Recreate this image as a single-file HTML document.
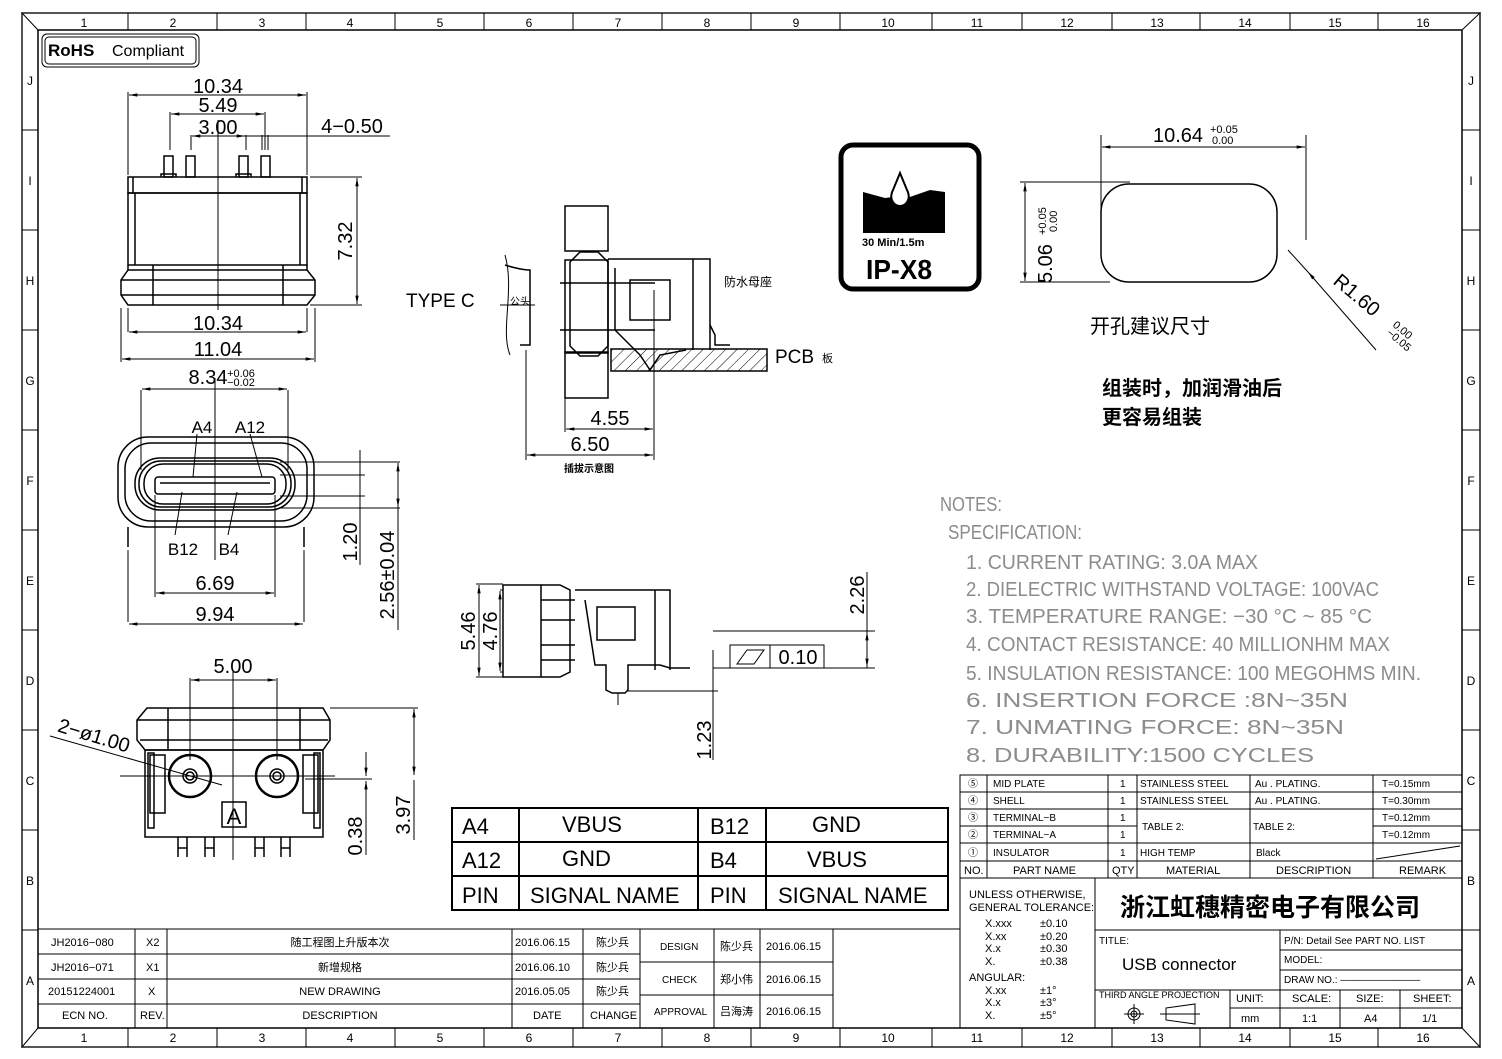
<!DOCTYPE html>
<html><head><meta charset="utf-8"><style>
html,body{margin:0;padding:0;background:#fff}
svg{display:block}
text{font-family:"Liberation Sans","Noto Sans CJK SC",sans-serif;fill:#000}
.n{font-size:12px;fill:#444}
.d{font-size:20px}
.g text{fill:#8c8c8c;font-size:20px;font-family:"Liberation Sans Narrow","Liberation Sans",sans-serif}
.s{font-size:10px}
.m{font-size:11px}
</style></head><body>
<svg width="1502" height="1059" viewBox="0 0 1502 1059" xmlns="http://www.w3.org/2000/svg">
<defs>
<marker id="a" viewBox="0 0 10 6" refX="10" refY="3" markerWidth="10" markerHeight="5" orient="auto-start-reverse"><path d="M0,1 L10,3 L0,5z" fill="#000"/></marker>
<pattern id="h" width="8" height="8" patternUnits="userSpaceOnUse" patternTransform="rotate(45)"><line x1="0" y1="0" x2="0" y2="8" stroke="#000" stroke-width="1"/></pattern>
</defs>
<g fill="none" stroke="#000">
<rect x="22" y="13" width="1458" height="1034" stroke-width="2" stroke="#555"/>
<rect x="38" y="30" width="1424" height="998" stroke-width="1.5"/>
<line x1="22" y1="13" x2="38" y2="30"/><line x1="1480" y1="13" x2="1462" y2="30"/>
<line x1="22" y1="1047" x2="38" y2="1028"/><line x1="1480" y1="1047" x2="1462" y2="1028"/>
<g stroke-width="1">
<path d="M128,13v17M217,13v17M306,13v17M395,13v17M484,13v17M573,13v17M662,13v17M751,13v17M840,13v17M932,13v17M1022,13v17M1112,13v17M1200,13v17M1290,13v17M1378,13v17"/>
<path d="M128,1028v19M217,1028v19M306,1028v19M395,1028v19M484,1028v19M573,1028v19M662,1028v19M751,1028v19M840,1028v19M932,1028v19M1022,1028v19M1112,1028v19M1200,1028v19M1290,1028v19M1378,1028v19"/>
<path d="M22,130h16M22,230h16M22,330h16M22,430h16M22,530h16M22,630h16M22,730h16M22,830h16M22,930h16"/>
<path d="M1462,130h18M1462,230h18M1462,330h18M1462,430h18M1462,530h18M1462,630h18M1462,730h18M1462,830h18M1462,930h18"/>
</g>
</g>
<g class="n" text-anchor="middle">
<text x="84" y="27">1</text><text x="173" y="27">2</text><text x="262" y="27">3</text><text x="350" y="27">4</text><text x="440" y="27">5</text><text x="529" y="27">6</text><text x="618" y="27">7</text><text x="707" y="27">8</text><text x="796" y="27">9</text><text x="888" y="27">10</text><text x="977" y="27">11</text><text x="1067" y="27">12</text><text x="1157" y="27">13</text><text x="1245" y="27">14</text><text x="1335" y="27">15</text><text x="1423" y="27">16</text>
<text x="84" y="1042">1</text><text x="173" y="1042">2</text><text x="262" y="1042">3</text><text x="350" y="1042">4</text><text x="440" y="1042">5</text><text x="529" y="1042">6</text><text x="618" y="1042">7</text><text x="707" y="1042">8</text><text x="796" y="1042">9</text><text x="888" y="1042">10</text><text x="977" y="1042">11</text><text x="1067" y="1042">12</text><text x="1157" y="1042">13</text><text x="1245" y="1042">14</text><text x="1335" y="1042">15</text><text x="1423" y="1042">16</text>
<text x="30" y="85">J</text><text x="30" y="185">I</text><text x="30" y="285">H</text><text x="30" y="385">G</text><text x="30" y="485">F</text><text x="30" y="585">E</text><text x="30" y="685">D</text><text x="30" y="785">C</text><text x="30" y="885">B</text><text x="30" y="985">A</text>
<text x="1471" y="85">J</text><text x="1471" y="185">I</text><text x="1471" y="285">H</text><text x="1471" y="385">G</text><text x="1471" y="485">F</text><text x="1471" y="585">E</text><text x="1471" y="685">D</text><text x="1471" y="785">C</text><text x="1471" y="885">B</text><text x="1471" y="985">A</text>
</g>

<rect x="42" y="34" width="157" height="33" rx="5" fill="none" stroke="#000"/>
<rect x="45" y="37" width="151" height="27" rx="4" fill="none" stroke="#000"/>
<text x="48" y="56" font-size="17" font-weight="bold">RoHS</text>
<text x="112" y="56" font-size="16">Compliant</text>

<g fill="none" stroke="#000" stroke-width="1.5">
<rect x="128" y="177" width="179" height="16"/>
<line x1="133" y1="177" x2="133" y2="193"/><line x1="302" y1="177" x2="302" y2="193"/>
<rect x="128" y="193" width="179" height="72"/>
<line x1="135" y1="193" x2="135" y2="265"/><line x1="300" y1="193" x2="300" y2="265"/>
<path d="M128,265 L128,270 L121,280 L121,295 L128,305 L307,305 L315,295 L315,280 L307,270 L307,265"/>
<line x1="121" y1="280" x2="315" y2="280"/><line x1="121" y1="295" x2="315" y2="295"/><line x1="128" y1="270" x2="307" y2="270"/>
<line x1="153" y1="265" x2="153" y2="305"/><line x1="283" y1="265" x2="283" y2="305"/>
<rect x="164" y="156" width="9" height="21"/><rect x="186" y="156" width="9" height="21"/><rect x="239" y="156" width="9" height="21"/><rect x="261" y="156" width="9" height="21"/>
<path d="M161,177v-3h15v3M236,177v-3h15v3"/>
</g>
<g fill="none" stroke="#000" stroke-width="1">
<line x1="218" y1="120" x2="218" y2="310"/>
<path d="M128,175V92M307,175V92M121,308V362M315,308V362M128,308V332M307,308V332"/>
<line x1="129" y1="95" x2="306" y2="95" marker-start="url(#a)" marker-end="url(#a)"/>
<path d="M170,150V112M265,150V112M191,150V135M246,150V135M262,150V135M268,150V135"/>
<line x1="171" y1="114" x2="264" y2="114" marker-start="url(#a)" marker-end="url(#a)"/>
<line x1="192" y1="136" x2="245" y2="136" marker-start="url(#a)" marker-end="url(#a)"/>
<line x1="245" y1="136" x2="390" y2="136"/>
<path d="M310,177H362M310,305H362"/>
<line x1="357" y1="178" x2="357" y2="304" marker-start="url(#a)" marker-end="url(#a)"/>
<line x1="129" y1="332" x2="306" y2="332" marker-start="url(#a)" marker-end="url(#a)"/>
<line x1="122" y1="359" x2="314" y2="359" marker-start="url(#a)" marker-end="url(#a)"/>
</g>
<g class="d" text-anchor="middle">
<text x="218" y="93">10.34</text><text x="218" y="112">5.49</text><text x="218" y="134">3.00</text>
<text x="352" y="133">4−0.50</text>
<text x="218" y="330">10.34</text><text x="218" y="356">11.04</text>
<text transform="translate(352,241) rotate(-90)">7.32</text>
</g>

<g fill="none" stroke="#000" stroke-width="1.5">
<rect x="118" y="437" width="196" height="90" rx="30"/>
<rect x="125" y="443" width="182" height="78" rx="26"/>
<rect x="135" y="458" width="160" height="52" rx="25"/>
<rect x="139" y="461" width="152" height="46" rx="22"/>
<rect x="144" y="464" width="142" height="40" rx="19"/>
<rect x="155" y="477" width="120" height="17" rx="3"/>
<line x1="160" y1="483" x2="270" y2="483"/>
<path d="M128,527v20M304,527v20"/>
</g>
<g fill="none" stroke="#000" stroke-width="1">
<line x1="215" y1="378" x2="215" y2="560"/>
<path d="M141,390V470M288,390V470"/>
<line x1="142" y1="389" x2="287" y2="389" marker-start="url(#a)" marker-end="url(#a)"/>
<path d="M197,434L193,477M250,434L262,477M182,492L175,535M237,492L228,535"/>
<path d="M155,495V597M275,495V597M128,550V622M304,550V622"/>
<line x1="156" y1="593" x2="274" y2="593" marker-start="url(#a)" marker-end="url(#a)"/>
<line x1="129" y1="624" x2="303" y2="624" marker-start="url(#a)" marker-end="url(#a)"/>
<path d="M280,462H400M280,475H365M280,496H365M280,508H400"/>
<line x1="360" y1="450" x2="360" y2="565"/>
<line x1="398" y1="463" x2="398" y2="507" marker-start="url(#a)" marker-end="url(#a)"/>
<line x1="398" y1="507" x2="398" y2="630"/>
</g>
<g class="d" text-anchor="middle">
<text x="208" y="384">8.34</text><text x="241" y="377" font-size="11">+0.06</text><text x="241" y="386" font-size="11">−0.02</text>
<text x="202" y="433" font-size="17">A4</text><text x="250" y="433" font-size="17">A12</text>
<text x="183" y="555" font-size="17">B12</text><text x="229" y="555" font-size="17">B4</text>
<text x="215" y="590">6.69</text><text x="215" y="621">9.94</text>
<text transform="translate(357,542) rotate(-90)">1.20</text>
<text transform="translate(394,575) rotate(-90)">2.56±0.04</text>
</g>

<g fill="none" stroke="#000" stroke-width="1.5">
<path d="M147,708H323L330,720V740L323,750H145L137,740V720Z"/>
<line x1="137" y1="720" x2="330" y2="720"/><line x1="140" y1="740" x2="328" y2="740"/>
<path d="M168,708V750M300,708V750"/>
<rect x="145" y="750" width="178" height="87"/>
<rect x="148" y="753" width="6" height="75"/><rect x="314" y="753" width="6" height="75"/>
<rect x="150" y="755" width="15" height="58"/><rect x="303" y="755" width="15" height="58"/>
<circle cx="190" cy="776" r="21" stroke-width="2.5"/><circle cx="190" cy="776" r="7"/><circle cx="190" cy="776" r="4"/>
<circle cx="277" cy="776" r="21" stroke-width="2.5"/><circle cx="277" cy="776" r="7"/><circle cx="277" cy="776" r="4"/>
<rect x="222" y="802" width="24" height="25"/>
<path d="M178,837v20M187,837v20M205,837v20M214,837v20M255,837v20M264,837v20M281,837v20M290,837v20M178,848h9M205,848h9M255,848h9M281,848h9"/>
</g>
<text x="234" y="824" font-size="22" text-anchor="middle">A</text>
<g fill="none" stroke="#000" stroke-width="1">
<line x1="233" y1="672" x2="233" y2="860"/>
<line x1="120" y1="776" x2="335" y2="776"/>
<path d="M190,678V760M277,678V760"/>
<line x1="191" y1="680" x2="276" y2="680" marker-start="url(#a)" marker-end="url(#a)"/>
<path d="M50,736L222,785"/>
<path d="M330,708H418M305,779H372"/>
<line x1="414" y1="709" x2="414" y2="775" marker-start="url(#a)" marker-end="url(#a)"/>
<line x1="366" y1="752" x2="366" y2="776" marker-end="url(#a)"/>
<line x1="366" y1="800" x2="366" y2="781" marker-end="url(#a)"/>
<path d="M366,800V855M414,780V840"/>
</g>
<g class="d" text-anchor="middle">
<text x="233" y="673">5.00</text>
<text transform="translate(92,742) rotate(17)">2−ø1.00</text>
<text transform="translate(362,836) rotate(-90)">0.38</text>
<text transform="translate(410,815) rotate(-90)">3.97</text>
</g>

<g fill="none" stroke="#000" stroke-width="1.5">
<rect x="565" y="206" width="43" height="45"/>
<rect x="565" y="352" width="43" height="46"/>
<path d="M565,260H608V353H565Z"/>
<path d="M580,252H598L608,262V346L598,356H580L570,346V262Z"/>
<path d="M608,259H710V350M693,259V350"/>
<path d="M630,280H670V320H630Z"/>
<path d="M560,283H655M560,330H655"/>
<path d="M615,268L615,330L640,355L650,370L660,355L686,350"/>
<path d="M710,325L715,335V345H730"/>
<path d="M505,265C505,265 520,270 530,270V345H520"/>
<rect x="611" y="349" width="156" height="22" fill="url(#h)"/>
</g>
<g fill="none" stroke="#000" stroke-width="1">
<path d="M500,305H535"/>
<path d="M526,350V460M654,290V460M565,398V432"/>
<line x1="566" y1="429" x2="653" y2="429" marker-start="url(#a)" marker-end="url(#a)"/>
<line x1="527" y1="455" x2="653" y2="455" marker-start="url(#a)" marker-end="url(#a)"/>
<path d="M505,255C515,290 500,330 510,355"/>
</g>
<text x="406" y="307" font-size="19" fill="#333">TYPE C</text>
<text x="510" y="305" font-size="10">公头</text>
<text x="724" y="286" font-size="12">防水母座</text>
<text x="775" y="363" font-size="19" fill="#333">PCB</text><text x="822" y="362" font-size="11">板</text>
<text x="610" y="425" class="d" text-anchor="middle">4.55</text>
<text x="590" y="451" class="d" text-anchor="middle">6.50</text>
<text x="589" y="472" font-size="10" text-anchor="middle" font-weight="bold">插拔示意图</text>

<g fill="none" stroke="#000" stroke-width="1.5">
<rect x="503" y="585" width="38" height="92"/>
<path d="M541,585H560L570,590V672L560,677H541"/>
<path d="M541,600H575M541,620H575M541,645H575M541,660H575"/>
<path d="M575,590H670V670M655,590V670"/>
<path d="M597,607H635V640H597Z"/>
<path d="M585,600L595,665H606V690L612,693H625L628,690V665H660L670,668H690"/>
</g>
<g fill="none" stroke="#000" stroke-width="1">
<path d="M476,584H503M476,677H503M500,590H503M500,672H503"/>
<line x1="479" y1="585" x2="479" y2="676" marker-start="url(#a)" marker-end="url(#a)"/>
<line x1="500" y1="591" x2="500" y2="671" marker-start="url(#a)" marker-end="url(#a)"/>
<path d="M618,693V705M627,691H718M713,650V760M713,668H875M713,631H875M867,572V668"/>
<line x1="867" y1="632" x2="867" y2="667" marker-start="url(#a)" marker-end="url(#a)"/>
<rect x="730" y="645" width="94" height="23"/><line x1="770" y1="645" x2="770" y2="668"/>
<path d="M737,664L747,650H764L754,664Z"/>
</g>
<g class="d" text-anchor="middle">
<text transform="translate(475,631) rotate(-90)">5.46</text>
<text transform="translate(497,631) rotate(-90)">4.76</text>
<text x="798" y="664">0.10</text>
<text transform="translate(864,595) rotate(-90)">2.26</text>
<text transform="translate(711,740) rotate(-90)">1.23</text>
</g>

<rect x="841" y="145" width="138" height="144" rx="12" fill="none" stroke="#000" stroke-width="5"/>
<path d="M863,192L885,198L893,197L900,205L907,198L930,190L945,192L945,233L863,233Z" fill="#000"/>
<path d="M900,173L893,190C888,200 895,206 900,206C905,206 912,200 907,190Z" fill="#fff" stroke="#000" stroke-width="2"/>
<text x="862" y="246" font-size="11" font-weight="bold">30 Min/1.5m</text>
<text x="866" y="279" font-size="28" font-weight="bold" font-family="Liberation Sans Narrow,Liberation Sans,sans-serif" textLength="66" lengthAdjust="spacingAndGlyphs">IP-X8</text>

<rect x="1101" y="184" width="176" height="98" rx="28" fill="none" stroke="#000" stroke-width="1.5"/>
<g fill="none" stroke="#000" stroke-width="1">
<path d="M1101,135V240M1306,135V240M1020,182H1130M1020,282H1110"/>
<line x1="1102" y1="147" x2="1305" y2="147" marker-start="url(#a)" marker-end="url(#a)"/>
<line x1="1025" y1="183" x2="1025" y2="281" marker-start="url(#a)" marker-end="url(#a)"/>
<line x1="1376" y1="350" x2="1308" y2="272" marker-end="url(#a)"/>
<line x1="1308" y1="272" x2="1288" y2="250"/>
</g>
<text x="1153" y="142" class="d">10.64</text><text x="1210" y="133" font-size="11">+0.05</text><text x="1212" y="144" font-size="11">0.00</text>
<text transform="translate(1052,283) rotate(-90)" class="d">5.06</text>
<text transform="translate(1046,235) rotate(-90)" font-size="11">+0.05</text>
<text transform="translate(1057,232) rotate(-90)" font-size="11">0.00</text>
<text transform="translate(1332,283) rotate(40)" class="d">R1.60</text>
<text transform="translate(1392,326) rotate(40)" font-size="11">0.00</text>
<text transform="translate(1386,334) rotate(40)" font-size="11">−0.05</text>
<text x="1090" y="333" font-size="20">开孔建议尺寸</text>
<text x="1102" y="395" font-size="20" font-weight="bold">组装时，加润滑油后</text>
<text x="1102" y="424" font-size="20" font-weight="bold">更容易组装</text>

<g class="g">
<text x="940" y="511" textLength="62" lengthAdjust="spacingAndGlyphs">NOTES:</text>
<text x="948" y="539" textLength="134" lengthAdjust="spacingAndGlyphs">SPECIFICATION:</text>
<text x="966" y="569" textLength="292" lengthAdjust="spacingAndGlyphs">1. CURRENT RATING: 3.0A MAX</text>
<text x="966" y="596" textLength="413" lengthAdjust="spacingAndGlyphs">2. DIELECTRIC WITHSTAND VOLTAGE: 100VAC</text>
<text x="966" y="623" textLength="406" lengthAdjust="spacingAndGlyphs">3. TEMPERATURE RANGE: −30 °C ~ 85 °C</text>
<text x="966" y="651" textLength="424" lengthAdjust="spacingAndGlyphs">4. CONTACT RESISTANCE: 40 MILLIONHM MAX</text>
<text x="966" y="680" textLength="455" lengthAdjust="spacingAndGlyphs">5. INSULATION RESISTANCE: 100 MEGOHMS MIN.</text>
<text x="966" y="707" textLength="382" lengthAdjust="spacingAndGlyphs">6. INSERTION FORCE :8N~35N</text>
<text x="966" y="734" textLength="378" lengthAdjust="spacingAndGlyphs">7. UNMATING FORCE: 8N~35N</text>
<text x="966" y="762" textLength="348" lengthAdjust="spacingAndGlyphs">8. DURABILITY:1500 CYCLES</text>
</g>

<g fill="none" stroke="#000" stroke-width="2">
<rect x="452" y="808" width="496" height="102"/>
<path d="M452,842H948M452,876H948M519,808V910M698,808V910M766,808V910"/>
</g>
<g font-size="22">
<text x="462" y="834">A4</text><text x="562" y="832">VBUS</text><text x="710" y="834">B12</text><text x="812" y="832">GND</text>
<text x="462" y="868">A12</text><text x="562" y="866">GND</text><text x="710" y="868">B4</text><text x="807" y="867">VBUS</text>
<text x="462" y="903">PIN</text><text x="530" y="903">SIGNAL NAME</text><text x="710" y="903">PIN</text><text x="778" y="903">SIGNAL NAME</text>
</g>

<g fill="none" stroke="#000" stroke-width="1">
<rect x="960" y="775" width="502" height="103"/>
<path d="M960,792H1462M960,809H1462M960,826H1137M1373,826H1462M960,843H1462M960,861H1462"/>
<path d="M987,775V878M1108,775V878M1137,775V878M1250,775V878M1373,775V878"/>
<path d="M1376,859L1460,846"/>
<rect x="960" y="878" width="502" height="150"/>
<path d="M1095,878V1028M1095,930H1462M1280,930V990M1280,950H1462M1280,970H1462M1095,990H1462M1230,990V1028M1280,990V1028M1340,990V1028M1400,990V1028M1230,1008H1462"/>
</g>
<g class="s">
<text x="968" y="787">⑤</text><text x="993" y="787">MID PLATE</text><text x="1120" y="787">1</text><text x="1140" y="787">STAINLESS STEEL</text><text x="1255" y="787">Au . PLATING.</text><text x="1382" y="787">T=0.15mm</text>
<text x="968" y="804">④</text><text x="993" y="804">SHELL</text><text x="1120" y="804">1</text><text x="1140" y="804">STAINLESS STEEL</text><text x="1255" y="804">Au . PLATING.</text><text x="1382" y="804">T=0.30mm</text>
<text x="968" y="821">③</text><text x="993" y="821">TERMINAL−B</text><text x="1120" y="821">1</text><text x="1142" y="830">TABLE 2:</text><text x="1253" y="830">TABLE 2:</text><text x="1382" y="821">T=0.12mm</text>
<text x="968" y="838">②</text><text x="993" y="838">TERMINAL−A</text><text x="1120" y="838">1</text><text x="1382" y="838">T=0.12mm</text>
<text x="968" y="856">①</text><text x="993" y="856">INSULATOR</text><text x="1120" y="856">1</text><text x="1140" y="856">HIGH TEMP</text><text x="1256" y="856">Black</text>
</g>
<g class="m" fill="#333">
<text x="964" y="874">NO.</text><text x="1013" y="874">PART NAME</text><text x="1112" y="874">QTY</text><text x="1166" y="874">MATERIAL</text><text x="1276" y="874">DESCRIPTION</text><text x="1399" y="874">REMARK</text>
<text x="969" y="898">UNLESS OTHERWISE,</text><text x="969" y="911">GENERAL TOLERANCE:</text>
<text x="985" y="927">X.xxx</text><text x="1040" y="927">±0.10</text>
<text x="985" y="940">X.xx</text><text x="1040" y="940">±0.20</text>
<text x="985" y="952">X.x</text><text x="1040" y="952">±0.30</text>
<text x="985" y="965">X.</text><text x="1040" y="965">±0.38</text>
<text x="969" y="981">ANGULAR:</text>
<text x="985" y="994">X.xx</text><text x="1040" y="994">±1°</text>
<text x="985" y="1006">X.x</text><text x="1040" y="1006">±3°</text>
<text x="985" y="1019">X.</text><text x="1040" y="1019">±5°</text>
<text x="1099" y="944" font-size="10">TITLE:</text>
<text x="1284" y="944" font-size="10">P/N: Detail See PART NO. LIST</text>
<text x="1284" y="963" font-size="10">MODEL:</text>
<text x="1284" y="983" font-size="10">DRAW NO.: ————————</text>
<text x="1099" y="998" font-size="9">THIRD ANGLE PROJECTION</text>
<text x="1236" y="1002">UNIT:</text><text x="1241" y="1022">mm</text>
<text x="1292" y="1002">SCALE:</text><text x="1302" y="1022">1:1</text>
<text x="1356" y="1002">SIZE:</text><text x="1364" y="1022">A4</text>
<text x="1413" y="1002">SHEET:</text><text x="1422" y="1022">1/1</text>
</g>
<text x="1120" y="916" font-size="25" font-weight="bold">浙江虹穗精密电子有限公司</text>
<text x="1122" y="970" font-size="17" font-family="Liberation Serif,serif" fill="#333">USB connector</text>
<g fill="none" stroke="#000" stroke-width="1">
<circle cx="1134" cy="1014" r="6"/><circle cx="1134" cy="1014" r="3"/><path d="M1124,1014H1144M1134,1004V1024"/>
<path d="M1166,1008L1195,1004V1024L1166,1020ZM1160,1014H1200"/>
</g>

<g fill="none" stroke="#000" stroke-width="1">
<path d="M38,929H960M38,954H640M38,979H640M38,1004H640M640,962H833M640,995H833"/>
<path d="M135,929V1028M167,929V1028M512,929V1028M583,929V1028M640,929V1028M714,929V1028M760,929V1028M833,929V1028M960,929V1028"/>
</g>
<g class="m" fill="#222">
<text x="51" y="946">JH2016−080</text><text x="146" y="946">X2</text><text x="340" y="946" text-anchor="middle">随工程图上升版本次</text><text x="515" y="946">2016.06.15</text><text x="596" y="946">陈少兵</text>
<text x="51" y="971">JH2016−071</text><text x="146" y="971">X1</text><text x="340" y="971" text-anchor="middle">新增规格</text><text x="515" y="971">2016.06.10</text><text x="596" y="971">陈少兵</text>
<text x="48" y="995">20151224001</text><text x="148" y="995">X</text><text x="340" y="995" text-anchor="middle">NEW DRAWING</text><text x="515" y="995">2016.05.05</text><text x="596" y="995">陈少兵</text>
<text x="62" y="1019">ECN NO.</text><text x="140" y="1019">REV.</text><text x="340" y="1019" text-anchor="middle">DESCRIPTION</text><text x="533" y="1019">DATE</text><text x="590" y="1019">CHANGE</text>
<text x="660" y="950" font-size="10">DESIGN</text><text x="720" y="950">陈少兵</text><text x="766" y="950">2016.06.15</text>
<text x="662" y="983" font-size="10">CHECK</text><text x="720" y="983">郑小伟</text><text x="766" y="983">2016.06.15</text>
<text x="654" y="1015" font-size="10">APPROVAL</text><text x="720" y="1015">吕海涛</text><text x="766" y="1015">2016.06.15</text>
</g>
</svg>
</body></html>
